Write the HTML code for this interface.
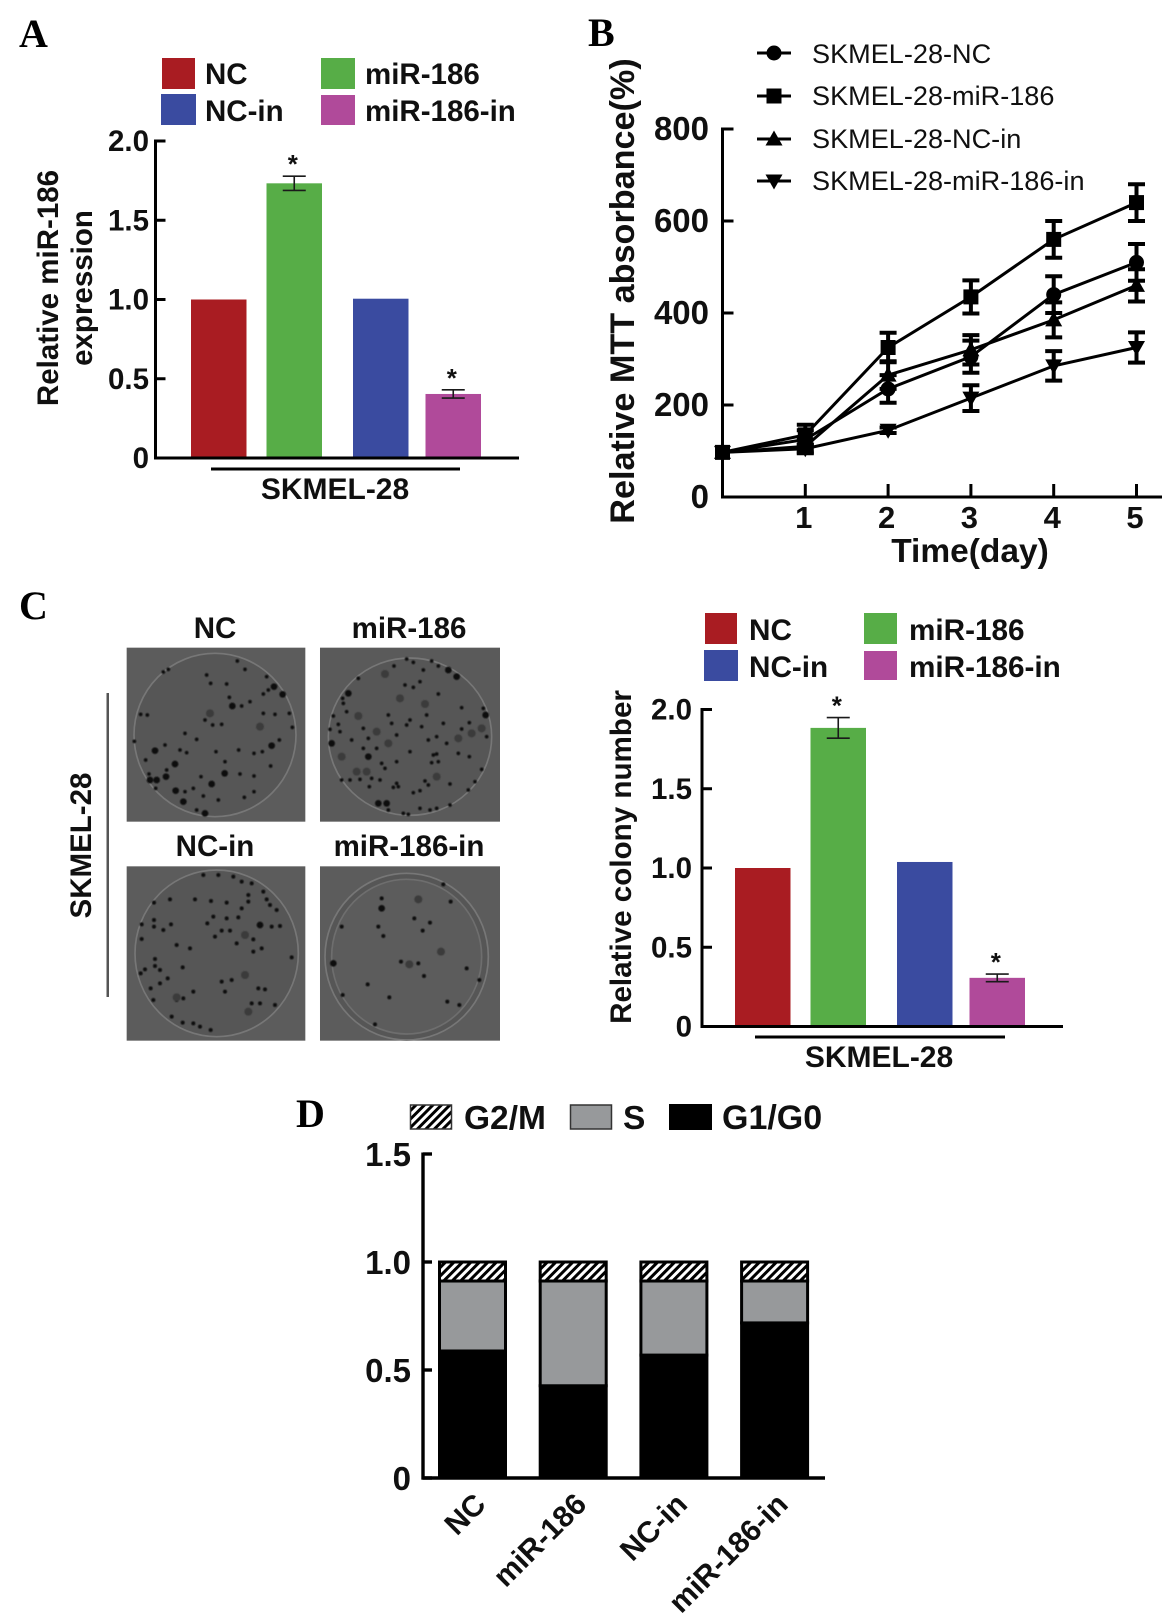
<!DOCTYPE html>
<html lang="en">
<head>
<meta charset="utf-8">
<title>miR-186 SKMEL-28 figure</title>
<style>
html,body{margin:0;padding:0;background:#fff}
svg{display:block}
text{font-family:"Liberation Sans",Arial,sans-serif;fill:#101010}
.b{font-weight:700}
.p{font-family:"Liberation Serif",serif;font-weight:700;font-size:40px;fill:#000}
</style>
</head>
<body>
<svg id="fig" xmlns="http://www.w3.org/2000/svg" width="1175" height="1624" viewBox="0 0 1175 1624">
<defs>
<pattern id="hatch" width="6" height="6" patternUnits="userSpaceOnUse" patternTransform="rotate(45)"><rect width="6" height="6" fill="#fff"/><rect width="3" height="6" fill="#000"/></pattern>
<filter id="soft" x="-5%" y="-5%" width="110%" height="110%"><feGaussianBlur stdDeviation="1.6"/></filter>
</defs>
<rect width="1175" height="1624" fill="#fff"/>

<text class="p" x="19" y="47">A</text>
<text class="p" x="588" y="46">B</text>
<text class="p" x="19" y="619">C</text>
<text class="p" x="296" y="1127">D</text>

<!-- Panel A legend -->
<g class="b" font-size="29.5">
<rect x="162" y="58" width="33" height="31" fill="#a91c22"/>
<rect x="321" y="58" width="34" height="31" fill="#57ad47"/>
<rect x="161" y="94" width="35" height="31" fill="#3a4ba0"/>
<rect x="321" y="95" width="34" height="30" fill="#b04a9a"/>
<text x="205" y="84">NC</text>
<text x="365" y="84">miR-186</text>
<text x="205" y="121">NC-in</text>
<text x="365" y="121">miR-186-in</text>
</g>
<text class="b" font-size="29.5" transform="translate(58,288) rotate(-90)" text-anchor="middle">Relative miR-186</text>
<text class="b" font-size="29.5" transform="translate(92,288) rotate(-90)" text-anchor="middle">expression</text>
<rect x="211" y="467.5" width="249" height="3" fill="#000"/>
<text class="b" font-size="30" x="335" y="499" text-anchor="middle">SKMEL-28</text>

<!-- Panel B legend -->
<g font-size="27.1">
<text x="812" y="63">SKMEL-28-NC</text>
<text x="812" y="105">SKMEL-28-miR-186</text>
<text x="812" y="148">SKMEL-28-NC-in</text>
<text x="812" y="190">SKMEL-28-miR-186-in</text>
</g>
<text class="b" font-size="34.2" transform="translate(634,291) rotate(-90)" text-anchor="middle">Relative MTT absorbance(%)</text>
<text class="b" font-size="33.5" x="970" y="562" text-anchor="middle">Time(day)</text>

<!-- Panel C photos -->
<g transform="translate(0,580) scale(.33333)">
<rect x="380" y="203" width="536" height="522" fill="#5c5c5c"/>
<rect x="960" y="203" width="540" height="522" fill="#5a5a5a"/>
<rect x="380" y="859" width="536" height="523" fill="#5c5c5c"/>
<rect x="960" y="859" width="540" height="523" fill="#5c5c5c"/>
<g fill="#565656" stroke="#777" stroke-width="5">
<ellipse cx="645" cy="465" rx="243" ry="245"/>
<ellipse cx="1230" cy="470" rx="245" ry="236"/>
<ellipse cx="650" cy="1120" rx="245" ry="250"/>
<ellipse cx="1220" cy="1130" rx="245" ry="250"/>
<ellipse cx="1220" cy="1130" rx="225" ry="232" fill="#5c5c5c" stroke="#6e6e6e"/>
</g>
<g fill="none" stroke-linecap="round" filter="url(#soft)">
<path stroke="#0c0c0c" stroke-width="20" d="M465 512h.01M525 552h.01M527 632h.01M848 343h.01M822 320h.01M550 665h.01M615 700h.01M674 580h.01M635 612h.01M815 497h.01M697 378h.01M498 590h.01M470 600h.01M450 600h.01M1370 290h.01M1345 270h.01M1045 340h.01M1457 405h.01M1135 670h.01M1160 670h.01M995 490h.01M1105 530h.01M1145 985h.01M1000 1150h.01M780 1035h.01"/>
<path stroke="#0f0f0f" stroke-width="11" d="M490 276h.01M505 268h.01M620 285h.01M735 268h.01M712 243h.01M800 290h.01M632 310h.01M680 312h.01M805 330h.01M790 342h.01M688 352h.01M750 365h.01M725 378h.01M422 403h.01M442 405h.01M790 400h.01M825 403h.01M868 400h.01M877 442h.01M403 484h.01M437 540h.01M495 495h.01M540 510h.01M555 460h.01M590 478h.01M665 433h.01M615 420h.01M638 435h.01M648 515h.01M716 510h.01M762 520h.01M812 558h.01M838 480h.01M787 515h.01M560 518h.01M675 545h.01M603 590h.01M762 588h.01M733 652h.01M762 635h.01M655 660h.01M610 648h.01M555 635h.01M447 582h.01M467 625h.01M590 690h.01M500 570h.01M720 582h.01M580 625h.01M1220 237h.01M1240 247h.01M1295 243h.01M1182 258h.01M1270 270h.01M1315 258h.01M1075 295h.01M1260 305h.01M1215 315h.01M1240 322h.01M1315 342h.01M1030 370h.01M1028 355h.01M1000 408h.01M1040 395h.01M1385 383h.01M1450 385h.01M1015 433h.01M990 448h.01M1165 405h.01M1230 420h.01M1175 430h.01M1280 405h.01M1265 440h.01M1330 430h.01M1385 447h.01M1408 428h.01M1090 445h.01M1020 455h.01M1055 480h.01M1105 475h.01M1190 465h.01M1220 435h.01M1310 470h.01M1285 480h.01M1340 490h.01M1230 515h.01M1300 525h.01M1310 522h.01M1315 545h.01M1295 548h.01M1408 530h.01M1460 470h.01M1375 520h.01M1445 568h.01M1025 600h.01M1050 600h.01M1080 598h.01M1115 595h.01M1140 600h.01M1190 610h.01M1195 620h.01M1108 620h.01M1180 622h.01M1240 638h.01M1275 603h.01M1285 615h.01M1260 632h.01M1350 612h.01M1405 630h.01M1425 605h.01M1190 545h.01M1090 505h.01M1130 505h.01M1290 690h.01M1260 685h.01M1310 685h.01M1210 700h.01M1225 703h.01M1350 675h.01M1165 690h.01M1145 550h.01M1155 565h.01"/>
<path stroke="#0f0f0f" stroke-width="12" d="M610 885h.01M655 885h.01M700 890h.01M725 905h.01M755 910h.01M790 935h.01M800 958h.01M745 945h.01M462 968h.01M510 958h.01M585 958h.01M633 963h.01M680 968h.01M745 965h.01M725 985h.01M810 975h.01M830 990h.01M640 1010h.01M622 1030h.01M680 1015h.01M715 1012h.01M462 1020h.01M425 1033h.01M513 1033h.01M490 1050h.01M462 1040h.01M815 1040h.01M840 1038h.01M690 1052h.01M665 1052h.01M645 1070h.01M425 1077h.01M760 1078h.01M710 1090h.01M570 1105h.01M530 1095h.01M785 1105h.01M760 1115h.01M875 1132h.01M465 1137h.01M465 1158h.01M480 1170h.01M548 1162h.01M435 1168h.01M422 1180h.01M503 1195h.01M665 1205h.01M695 1200h.01M452 1225h.01M480 1210h.01M675 1235h.01M775 1225h.01M795 1228h.01M530 1260h.01M550 1255h.01M460 1260h.01M580 1235h.01M755 1270h.01M780 1270h.01M825 1275h.01M515 1310h.01M548 1328h.01M580 1330h.01M600 1340h.01M632 1350h.01M1330 913h.01M1145 955h.01M1352 965h.01M1243 1015h.01M1290 1028h.01M1025 1040h.01M1135 1040h.01M1150 1068h.01M1268 1052h.01M1203 1145h.01M1255 1150h.01M1272 1188h.01M1103 1213h.01M1168 1252h.01M1028 1245h.01M1342 1265h.01M1378 1275h.01M1400 1165h.01M1438 1200h.01M1125 1333h.01"/>
<path stroke="#3a3a3a" stroke-width="24" d="M780 440h.01M630 400h.01M1155 282h.01M1200 355h.01M1275 372h.01M1075 408h.01M1100 575h.01M1025 530h.01M1070 575h.01M1310 590h.01M1375 475h.01M1415 460h.01M1445 445h.01M1165 490h.01M1130 455h.01M735 1185h.01M735 1065h.01M1255 958h.01M1323 1115h.01M1228 1153h.01M745 1295h.01M530 1252h.01"/>
</g>
</g>
<g class="b" font-size="29.5" text-anchor="middle">
<text x="215" y="638">NC</text>
<text x="409" y="638">miR-186</text>
<text x="215" y="856">NC-in</text>
<text x="409" y="856">miR-186-in</text>
</g>
<rect x="106.5" y="693" width="2.5" height="304" fill="#555"/>
<text class="b" font-size="29.5" transform="translate(91,845.5) rotate(-90)" text-anchor="middle">SKMEL-28</text>

<!-- Panel C chart legend -->
<g class="b" font-size="29.7">
<rect x="705" y="613" width="32" height="31" fill="#a91c22"/>
<rect x="864" y="613" width="33" height="31" fill="#57ad47"/>
<rect x="704" y="650" width="34" height="31" fill="#3a4ba0"/>
<rect x="864" y="651" width="33" height="29" fill="#b04a9a"/>
<text x="749" y="640">NC</text>
<text x="909" y="640">miR-186</text>
<text x="749" y="677">NC-in</text>
<text x="909" y="677">miR-186-in</text>
</g>
<text class="b" font-size="29.6" transform="translate(631,857) rotate(-90)" text-anchor="middle">Relative colony number</text>
<rect x="755" y="1035.5" width="250" height="3" fill="#000"/>
<text class="b" font-size="30" x="879" y="1067" text-anchor="middle">SKMEL-28</text>

<!-- Panel D legend -->
<g class="b" font-size="33.5">
<rect x="410.5" y="1105" width="41" height="24" fill="url(#hatch)" stroke="#333" stroke-width="1.5"/>
<rect x="570.5" y="1105" width="41" height="24" fill="#97999b" stroke="#333" stroke-width="1.5"/>
<rect x="669" y="1104" width="43" height="26" fill="#000"/>
<text x="464" y="1129">G2/M</text>
<text x="623" y="1129">S</text>
<text x="722" y="1129" font-size="34">G1/G0</text>
</g>

<g id="plots"></g>
</svg>
<script>
// Panel A data
const panelAValues = [1.0, 1.733, 1.005, 0.404];
const panelAErrors = [0, 0.045, 0, 0.026];
const panelASignificance = ["", "*", "", "*"];
const panelATickValues = [0, 0.5, 1, 1.5, 2];
const panelATickLabels = ["0", "0.5", "1.0", "1.5", "2.0"];

// Panel C data
const panelCValues = [1.0, 1.884, 1.038, 0.307];
const panelCErrors = [0, 0.065, 0, 0.024];
const panelCSignificance = ["", "*", "", "*"];
const panelCTickValues = [0, 0.5, 1, 1.5, 2];
const panelCTickLabels = ["0", "0.5", "1.0", "1.5", "2.0"];

// Bar categories (panels A, C, D)
const barCategories = ["NC", "miR-186", "NC-in", "miR-186-in"];
const barColors = ["#a91c22", "#57ad47", "#3a4ba0", "#b04a9a"];

// Panel B data
const days = [0, 1, 2, 3, 4, 5];
const dayLabels = ["", "1", "2", "3", "4", "5"];
const mttTickValues = [0, 200, 400, 600, 800];
const mttTickLabels = ["0", "200", "400", "600", "800"];
const seriesNames = ["SKMEL-28-NC", "SKMEL-28-miR-186", "SKMEL-28-NC-in", "SKMEL-28-miR-186-in"];
const seriesNC = [97, 125, 235, 305, 440, 510];
const seriesMiR = [97, 135, 325, 435, 560, 640];
const seriesNCin = [97, 110, 265, 320, 385, 460];
const seriesMiRin = [97, 105, 145, 215, 285, 325];
const errorNC = [0, 20, 30, 35, 40, 40];
const errorMiR = [0, 22, 32, 36, 40, 40];
const errorNCin = [0, 15, 30, 32, 38, 35];
const errorMiRin = [0, 8, 6, 28, 32, 33];

// Panel D data
const cellG1 = [0.588, 0.427, 0.569, 0.718];
const cellS = [0.324, 0.485, 0.343, 0.194];
const cellG2M = [0.088, 0.088, 0.088, 0.088];
const cellTickValues = [0, 0.5, 1, 1.5];
const cellTickLabels = ["0", "0.5", "1.0", "1.5"];

const NS = "http://www.w3.org/2000/svg";
const root = document.getElementById("plots");

function make(tag, attrs, parent) {
  const node = document.createElementNS(NS, tag);
  for (const k in attrs) node.setAttribute(k, attrs[k]);
  parent.appendChild(node);
  return node;
}
function group(parent) {
  return make("g", {}, parent);
}
function drawAxes(g, o) {
  const yAxis = make("line", {x1: o.x0, x2: o.x0, y1: o.y(o.tickValues[o.tickValues.length - 1]) - 1.5, y2: o.y(o.tickValues[0]) + 1.5, stroke: "#000", "stroke-width": o.sw}, g);
  
  
  const xAxis = make("line", {x1: o.x0 - 1.5, x2: o.xEnd, y1: o.y(o.tickValues[0]), y2: o.y(o.tickValues[0]), stroke: "#000", "stroke-width": o.sw}, g);
  
  
  o.tickValues.forEach(function (v, i) {
    const tick = make("line", {x1: o.x0, x2: o.x0 + o.tickLen, y1: o.y(v), y2: o.y(v), stroke: "#000", "stroke-width": o.sw}, g);
    
    
    const label = make("text", {x: o.labelX, y: o.y(v) + o.labelDy, "text-anchor": "end", "font-size": o.fs, "class": "b"}, g);
    label.textContent = o.tickLabels[i];
    
    
  });
}
function drawBarPanel(prefix, o) {
  const g = group(root);
  
  
  const y = function (v) { return o.yZero - v * o.unit; };
  o.values.forEach(function (v, i) {
    const left = o.left + i * o.step + (i >= 2 ? o.gap : 0) - (i === 3 ? o.pairTrim : 0);
    const bar = make("rect", {x: left, y: y(v), width: o.barW, height: o.yZero - y(v), fill: barColors[i]}, g);
    
    
    if (o.errors[i] > 0) {
      const cx = left + o.barW / 2;
      const err = make("path", {d: "M" + (cx - 11.5) + " " + y(v + o.errors[i]) + "h23M" + cx + " " + y(v + o.errors[i]) + "V" + y(v - o.errors[i]) + "M" + (cx - 11.5) + " " + y(v - o.errors[i]) + "h23", stroke: "#1a1a1a", "stroke-width": 1.6, fill: "none"}, g);
      
      
    }
    if (o.significance[i]) {
      const star = make("text", {x: left + o.barW / 2 - 1.5, y: y(v + o.errors[i]) - 3, "text-anchor": "middle", "font-size": 26, "class": "b"}, g);
      star.textContent = o.significance[i];
      
      
    }
  });
  drawAxes(g, {x0: o.x0, xEnd: o.xEnd, y: y, tickValues: o.tickValues, tickLabels: o.tickLabels, tickLen: 10, sw: 3, labelX: o.labelX, labelDy: 10, fs: 29.5});
}
drawBarPanel("panel-a", {values: panelAValues, errors: panelAErrors, significance: panelASignificance, tickValues: panelATickValues, tickLabels: panelATickLabels, yZero: 458, unit: 158.5, left: 191, step: 75.5, gap: 11, pairTrim: 3, barW: 55.5, x0: 155.5, xEnd: 519, labelX: 149});
drawBarPanel("panel-c", {values: panelCValues, errors: panelCErrors, significance: panelCSignificance, tickValues: panelCTickValues, tickLabels: panelCTickLabels, yZero: 1026.5, unit: 158.5, left: 735, step: 75.5, gap: 11, pairTrim: 3, barW: 55.5, x0: 702, xEnd: 1063, labelX: 692});

// Panel B
(function () {
  const g = group(root);
  
  
  const x = function (d) { return 722.5 + d * 82.8; };
  const y = function (v) { return 497 - v * 0.46; };
  drawAxes(g, {x0: 722.5, xEnd: 1162, y: y, tickValues: mttTickValues, tickLabels: mttTickLabels, tickLen: 11, sw: 3, labelX: 709, labelDy: 11, fs: 33});
  days.forEach(function (d, i) {
    if (!dayLabels[i]) return;
    const tick = make("line", {x1: x(d), x2: x(d), y1: 497, y2: 484, stroke: "#000", "stroke-width": 3}, g);
    
    
    const label = make("text", {x: x(d) - 1.5, y: 528, "text-anchor": "middle", "font-size": 31, "class": "b"}, g);
    label.textContent = dayLabels[i];
    
    
  });
  function marker(parent, kind, cx, cy) {
    if (kind === 0) return make("circle", {cx: cx, cy: cy, r: 7.5, fill: "#000"}, parent);
    if (kind === 1) return make("rect", {x: cx - 7.5, y: cy - 7.5, width: 15, height: 15, fill: "#000"}, parent);
    if (kind === 2) return make("path", {d: "M" + (cx - 8.5) + " " + (cy + 6.5) + "h17L" + cx + " " + (cy - 8.5) + "z", fill: "#000"}, parent);
    return make("path", {d: "M" + (cx - 8.5) + " " + (cy - 6.5) + "h17L" + cx + " " + (cy + 8.5) + "z", fill: "#000"}, parent);
  }
  const allValues = [seriesNC, seriesMiR, seriesNCin, seriesMiRin];
  const allErrors = [errorNC, errorMiR, errorNCin, errorMiRin];
  allValues.forEach(function (vals, s) {
    const sg = group(g);
    
    
    const pts = days.map(function (d, i) { return x(d) + "," + y(vals[i]); }).join(" ");
    const line = make("polyline", {points: pts, fill: "none", stroke: "#000", "stroke-width": 3}, sg);
    
    
    days.forEach(function (d, i) {
      const e = allErrors[s][i];
      if (e > 0) {
        const eb = make("path", {d: "M" + (x(d) - 8.5) + " " + y(vals[i] + e) + "h17M" + x(d) + " " + y(vals[i] + e) + "V" + y(vals[i] - e) + "M" + (x(d) - 8.5) + " " + y(vals[i] - e) + "h17", fill: "none", stroke: "#000", "stroke-width": 4}, sg);
        
        
      }
      const m = marker(sg, s, x(d), y(vals[i]));
      
      
    });
    // legend key for this series
    const ly = [53, 96, 139, 181][s];
    const keyLine = make("line", {x1: 757, x2: 791, y1: ly, y2: ly, stroke: "#000", "stroke-width": 3}, g);
    
    
    const keyMark = marker(g, s, 774, ly);
    
    
  });
})();

// Panel D
(function () {
  const g = group(root);
  
  
  const y = function (v) { return 1478 - v * 216; };
  barCategories.forEach(function (name, i) {
    const left = 439.5 + i * 100.7;
    const w = 66;
    const h1 = cellG1[i];
    const h2 = h1 + cellS[i];
    const h3 = h2 + cellG2M[i];
    const r1 = make("rect", {x: left, y: y(h1), width: w, height: y(0) - y(h1), fill: "#000", stroke: "#000", "stroke-width": 3}, g);
    
    
    const r2 = make("rect", {x: left, y: y(h2), width: w, height: y(h1) - y(h2), fill: "#97999b", stroke: "#000", "stroke-width": 3}, g);
    
    
    const r3 = make("rect", {x: left, y: y(h3), width: w, height: y(h2) - y(h3), fill: "url(#hatch)", stroke: "#000", "stroke-width": 3}, g);
    
    
    const ax = left + w / 2 + 15;
    const label = make("text", {transform: "translate(" + ax + ",1506) rotate(-45)", "text-anchor": "end", "font-size": 30, "class": "b"}, g);
    label.textContent = name;
    
    
  });
  drawAxes(g, {x0: 423, xEnd: 825, y: y, tickValues: cellTickValues, tickLabels: cellTickLabels, tickLen: 9, sw: 3.4, labelX: 411, labelDy: 12, fs: 33});
})();
</script>
</body>
</html>
